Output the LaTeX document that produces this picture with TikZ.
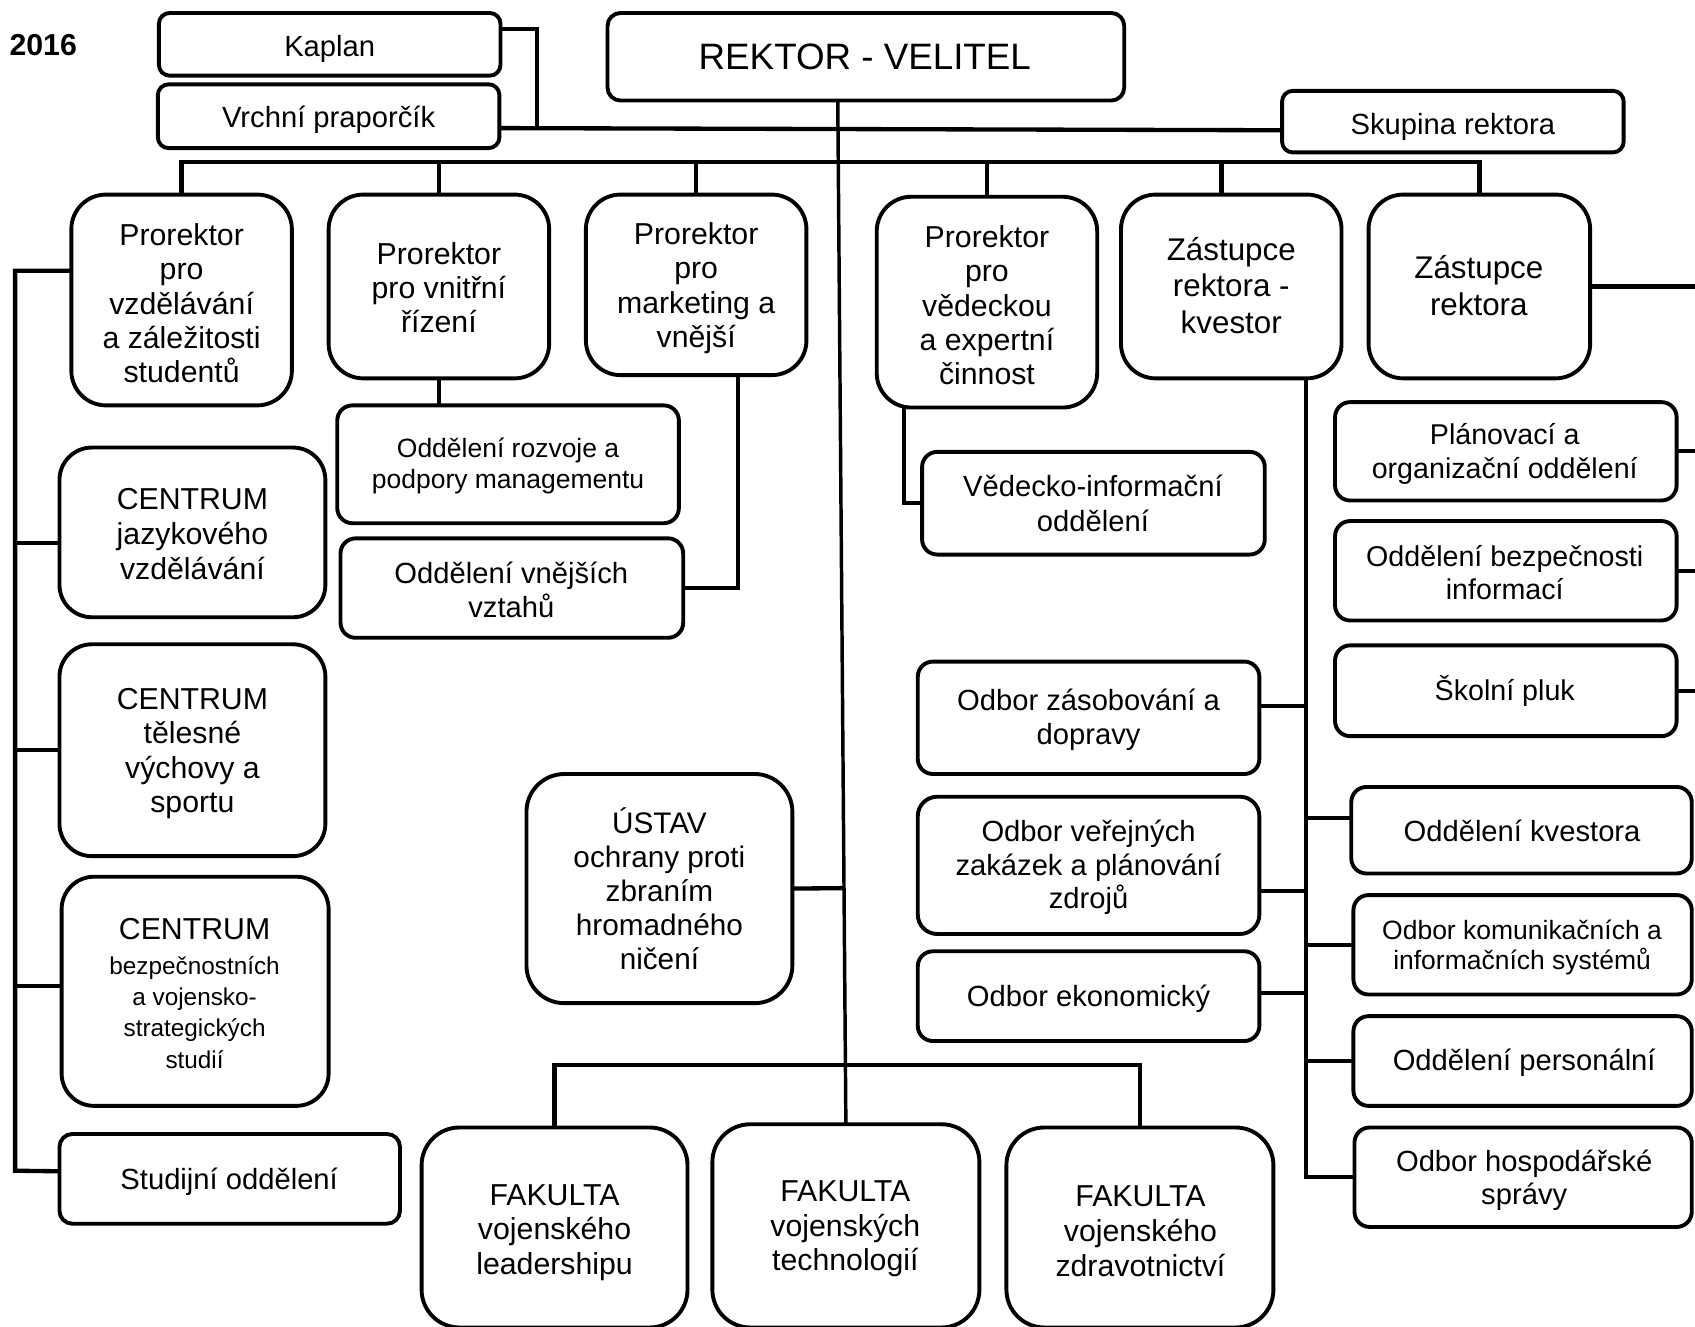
\documentclass[tikz,border=0pt]{standalone}
\usepackage{fontspec}
\setmainfont{Liberation Sans}
\usetikzlibrary{calc}
\tikzset{
  orgbox/.style={draw=black, line width=3.6pt, fill=white, inner sep=0pt, outer sep=0pt, rounded corners=#1},
  orgbox/.default=12pt,
  txt/.style={align=center, inner sep=0pt, outer sep=0pt, text=black},
  wire/.style={draw=black, line width=4pt, line join=miter},
  trunkwire/.style={draw=black, line width=3.2pt},
  fA/.style={font=\fontsize{27}{31}\selectfont},
  fR/.style={font=\fontsize{34}{40}\selectfont},
  fP/.style={font=\fontsize{28}{31.75}\selectfont},
  fZ/.style={font=\fontsize{29}{34}\selectfont},
  fS/.style={font=\fontsize{24.5}{29}\selectfont},
  fO/.style={font=\fontsize{27}{32}\selectfont},
}
% name, x1, y1, x2, y2, radius
\newcommand{\orgrect}[6]{%
  \node[orgbox=#6pt, minimum width={(#4)-(#2)}, minimum height={(#5)-(#3)}] (#1) at ({((#2)+(#4))/2},{((#3)+(#5))/2}) {};}
\begin{document}
\begin{tikzpicture}[x=1pt,y=-1pt]
\useasboundingbox (0,0) rectangle (1568,1227);
\clip (0,0) rectangle (1568,1227);
\fill[white] (0,0) rectangle (1568,1227);

% ---------- boxes ----------
\orgrect{kaplan}{147}{12}{463}{70}{10}
\orgrect{vrchni}{146}{78}{462}{137}{10}
\orgrect{rektor}{562}{12}{1040}{93}{12}
\orgrect{skupina}{1186}{84}{1502}{141}{10}
\orgrect{p1}{66}{180}{270}{375}{32}
\orgrect{p2}{304}{180}{508}{350}{32}
\orgrect{p3}{542}{180}{746}{347}{32}
\orgrect{p4}{811}{182}{1015}{377}{32}
\orgrect{z1}{1037}{180}{1241}{350}{32}
\orgrect{z2}{1266}{180}{1471}{350}{32}
\orgrect{plan}{1235}{372}{1551}{463}{14}
\orgrect{bezp}{1235}{482}{1551}{574}{14}
\orgrect{pluk}{1235}{597}{1551}{681}{14}
\orgrect{rozvoj}{312}{375}{628}{484}{14}
\orgrect{vnejsi}{315}{498}{632}{590}{14}
\orgrect{ved}{853}{418}{1170}{513}{14}
\orgrect{zas}{849}{612}{1165}{716}{14}
\orgrect{ver}{849}{737}{1165}{864}{18}
\orgrect{eko}{849}{880}{1165}{963}{14}
\orgrect{kvest}{1250}{728}{1565}{808}{14}
\orgrect{kom}{1252}{828}{1565}{920}{14}
\orgrect{pers}{1252}{940}{1565}{1023}{14}
\orgrect{hosp}{1253}{1043}{1565}{1135}{14}
\orgrect{cj}{55}{414}{301}{571}{30}
\orgrect{ct}{55}{596}{301}{792}{30}
\orgrect{cb}{57}{811}{304}{1023}{30}
\orgrect{stud}{55}{1049}{370}{1132}{12}
\orgrect{ustav}{487}{716}{733}{928}{35}
\orgrect{f1}{390}{1043}{636}{1228}{35}
\orgrect{f2}{659}{1040}{906}{1228}{35}
\orgrect{f3}{931}{1043}{1178}{1228}{35}

% ---------- texts ----------
\node[txt, font=\bfseries\fontsize{28}{32}\selectfont] (year) at (40,42) {2016};
\node[txt, fA] (kaplan-t) at (305,45) {Kaplan};
\node[txt, fA] (vrchni-t) at (304,111) {Vrchní praporčík};
\node[txt, fR] (rektor-t) at (800,53) {REKTOR - VELITEL};
\node[txt, fA] (skupina-t) at (1344,117) {Skupina rektora};
\node[txt, fP] (p1-t) at (168,280.5) {Prorektor\\pro\\vzdělávání\\a záležitosti\\studentů};
\node[txt, fP] (p2-t) at (406,266) {Prorektor\\pro vnitřní\\řízení};
\node[txt, fP] (p3-t) at (644,266.5) {Prorektor\\pro\\marketing a\\vnější};
\node[txt, fP] (p4-t) at (913,282.5) {Prorektor\\pro\\vědeckou\\a expertní\\činnost};
\node[txt, fZ] (z1-t) at (1139,264) {Zástupce\\rektora -\\kvestor};
\node[txt, fZ] (z2-t) at (1368,264) {Zástupce\\rektora};
\node[txt, font=\fontsize{26.5}{31}\selectfont] (plan-t) at (1392,420) {Plánovací a\\organizační oddělení};
\node[txt, font=\fontsize{26.5}{31}\selectfont] (bezp-t) at (1392,529.5) {Oddělení bezpečnosti\\informací};
\node[txt, font=\fontsize{26.5}{31}\selectfont] (pluk-t) at (1392,639.5) {Školní pluk};
\node[txt, fS] (rozvoj-t) at (470,431) {Oddělení rozvoje a\\podpory managementu};
\node[txt, fO] (vnejsi-t) at (473,545.5) {Oddělení vnějších\\vztahů};
\node[txt, fO] (ved-t) at (1011,465.5) {Vědecko-informační\\oddělení};
\node[txt, fO] (zas-t) at (1007,666) {Odbor zásobování a\\dopravy};
\node[txt, font=\fontsize{27}{31}\selectfont] (ver-t) at (1007,802.5) {Odbor veřejných\\zakázek a plánování\\zdrojů};
\node[txt, fO] (eko-t) at (1007,923.5) {Odbor ekonomický};
\node[txt, fO] (kvest-t) at (1408,769) {Oddělení kvestora};
\node[txt, font=\fontsize{24.5}{28.5}\selectfont] (kom-t) at (1408,876.5) {Odbor komunikačních a\\informačních systémů};
\node[txt, fO] (pers-t) at (1410,983) {Oddělení personální};
\node[txt, font=\fontsize{27}{31}\selectfont] (hosp-t) at (1410,1092) {Odbor hospodářské\\správy};
\node[txt, font=\fontsize{28}{32}\selectfont] (cj-t) at (178,494) {CENTRUM\\jazykového\\vzdělávání};
\node[txt, font=\fontsize{28}{32}\selectfont] (ct-t) at (178,697) {CENTRUM\\tělesné\\výchovy a\\sportu};
\node[txt, font=\fontsize{22.5}{29}\selectfont] (cb-t) at (180,919) {{\fontsize{28}{32}\selectfont CENTRUM}\\[3pt]bezpečnostních\\a vojensko-\\strategických\\studií};
\node[txt, fA] (stud-t) at (212,1093) {Studijní oddělení};
\node[txt, font=\fontsize{27.5}{31.5}\selectfont] (ustav-t) at (610,822) {ÚSTAV\\ochrany proti\\zbraním\\hromadného\\ničení};
\node[txt, font=\fontsize{28}{32}\selectfont] (f1-t) at (513,1140) {FAKULTA\\vojenského\\leadershipu};
\node[txt, font=\fontsize{28}{32}\selectfont] (f2-t) at (782,1137) {FAKULTA\\vojenských\\technologií};
\node[txt, font=\fontsize{28}{32}\selectfont] (f3-t) at (1055,1139) {FAKULTA\\vojenského\\zdravotnictví};

% ---------- junction coordinates ----------
\coordinate (kapj) at (497,117);
\coordinate (busy) at (0,150);
\coordinate (leftx) at (14,0);
\coordinate (lcorner) at (14,1083);
\coordinate (rightx) at (1580,0);
\coordinate (rbot) at (1580,640);
\coordinate (kvx) at (1208,0);
\coordinate (fbusy) at (0,985);
\coordinate (trunktop) at ([xshift=-26pt]rektor.south);

% ---------- connectors ----------
\draw[wire] ([yshift=14pt]kaplan.east) -| (kapj);
\draw[wire] ([yshift=-11pt]vrchni.east) -- ([yshift=-8pt]skupina.west);
\draw[trunkwire] (trunktop) -- (f2.north);

% prorektor bus
\draw[wire] (p1.north) -- (p1.north |- busy) -- (z2.north |- busy) -- (z2.north);
\draw[wire] (p2.north) -- (p2.north |- busy);
\draw[wire] (p3.north) -- (p3.north |- busy);
\draw[wire] (p4.north) -- (p4.north |- busy);
\draw[wire] ([xshift=-9pt]z1.north) -- ([xshift=-9pt]z1.north |- busy);

% left group
\draw[wire] ([yshift=27pt]p1.west) -| (lcorner) -- ([yshift=7pt]stud.west);
\draw[wire] ([yshift=-10pt]cj.west) -- ([yshift=-10pt]cj.west -| leftx);
\draw[wire] (ct.west) -- (ct.west -| leftx);
\draw[wire] ([yshift=5pt]cb.west) -- ([yshift=5pt]cb.west -| leftx);

% prorektor sub units
\draw[wire] (p2.south) -- (p2.south |- rozvoj.north);
\draw[wire] ([xshift=39pt]p3.south) |- (vnejsi.east);
\draw[wire] ([xshift=-77pt]p4.south) |- (ved.west);

% zastupce rektora (right)
\draw[wire] (z2.east) -- (z2.east -| rightx) -- (rbot);
\draw[wire] (plan.east) -- (plan.east -| rightx);
\draw[wire] (bezp.east) -- (bezp.east -| rightx);
\draw[wire] (pluk.east) -- (pluk.east -| rightx);

% kvestor
\draw[wire] ([xshift=69pt]z1.south) |- (hosp.west);
\draw[wire] ([yshift=11pt]zas.east) -- ([yshift=11pt]zas.east -| kvx);
\draw[wire] ([yshift=-24pt]ver.east) -- ([yshift=-24pt]ver.east -| kvx);
\draw[wire] ([yshift=3pt]eko.east) -- ([yshift=3pt]eko.east -| kvx);
\draw[wire] ([yshift=11pt]kvest.west) -- ([yshift=11pt]kvest.west -| kvx);
\draw[wire] (kom.west) -- (kom.west -| kvx);
\draw[wire] (pers.west) -- (pers.west -| kvx);

% ustav
\draw[wire] (ustav.east) -- ($(trunktop)!(ustav.east)!(f2.north)$);

% fakulty
\draw[wire] (f1.north) -- (f1.north |- fbusy) -- (f3.north |- fbusy) -- (f3.north);
\end{tikzpicture}
\end{document}
